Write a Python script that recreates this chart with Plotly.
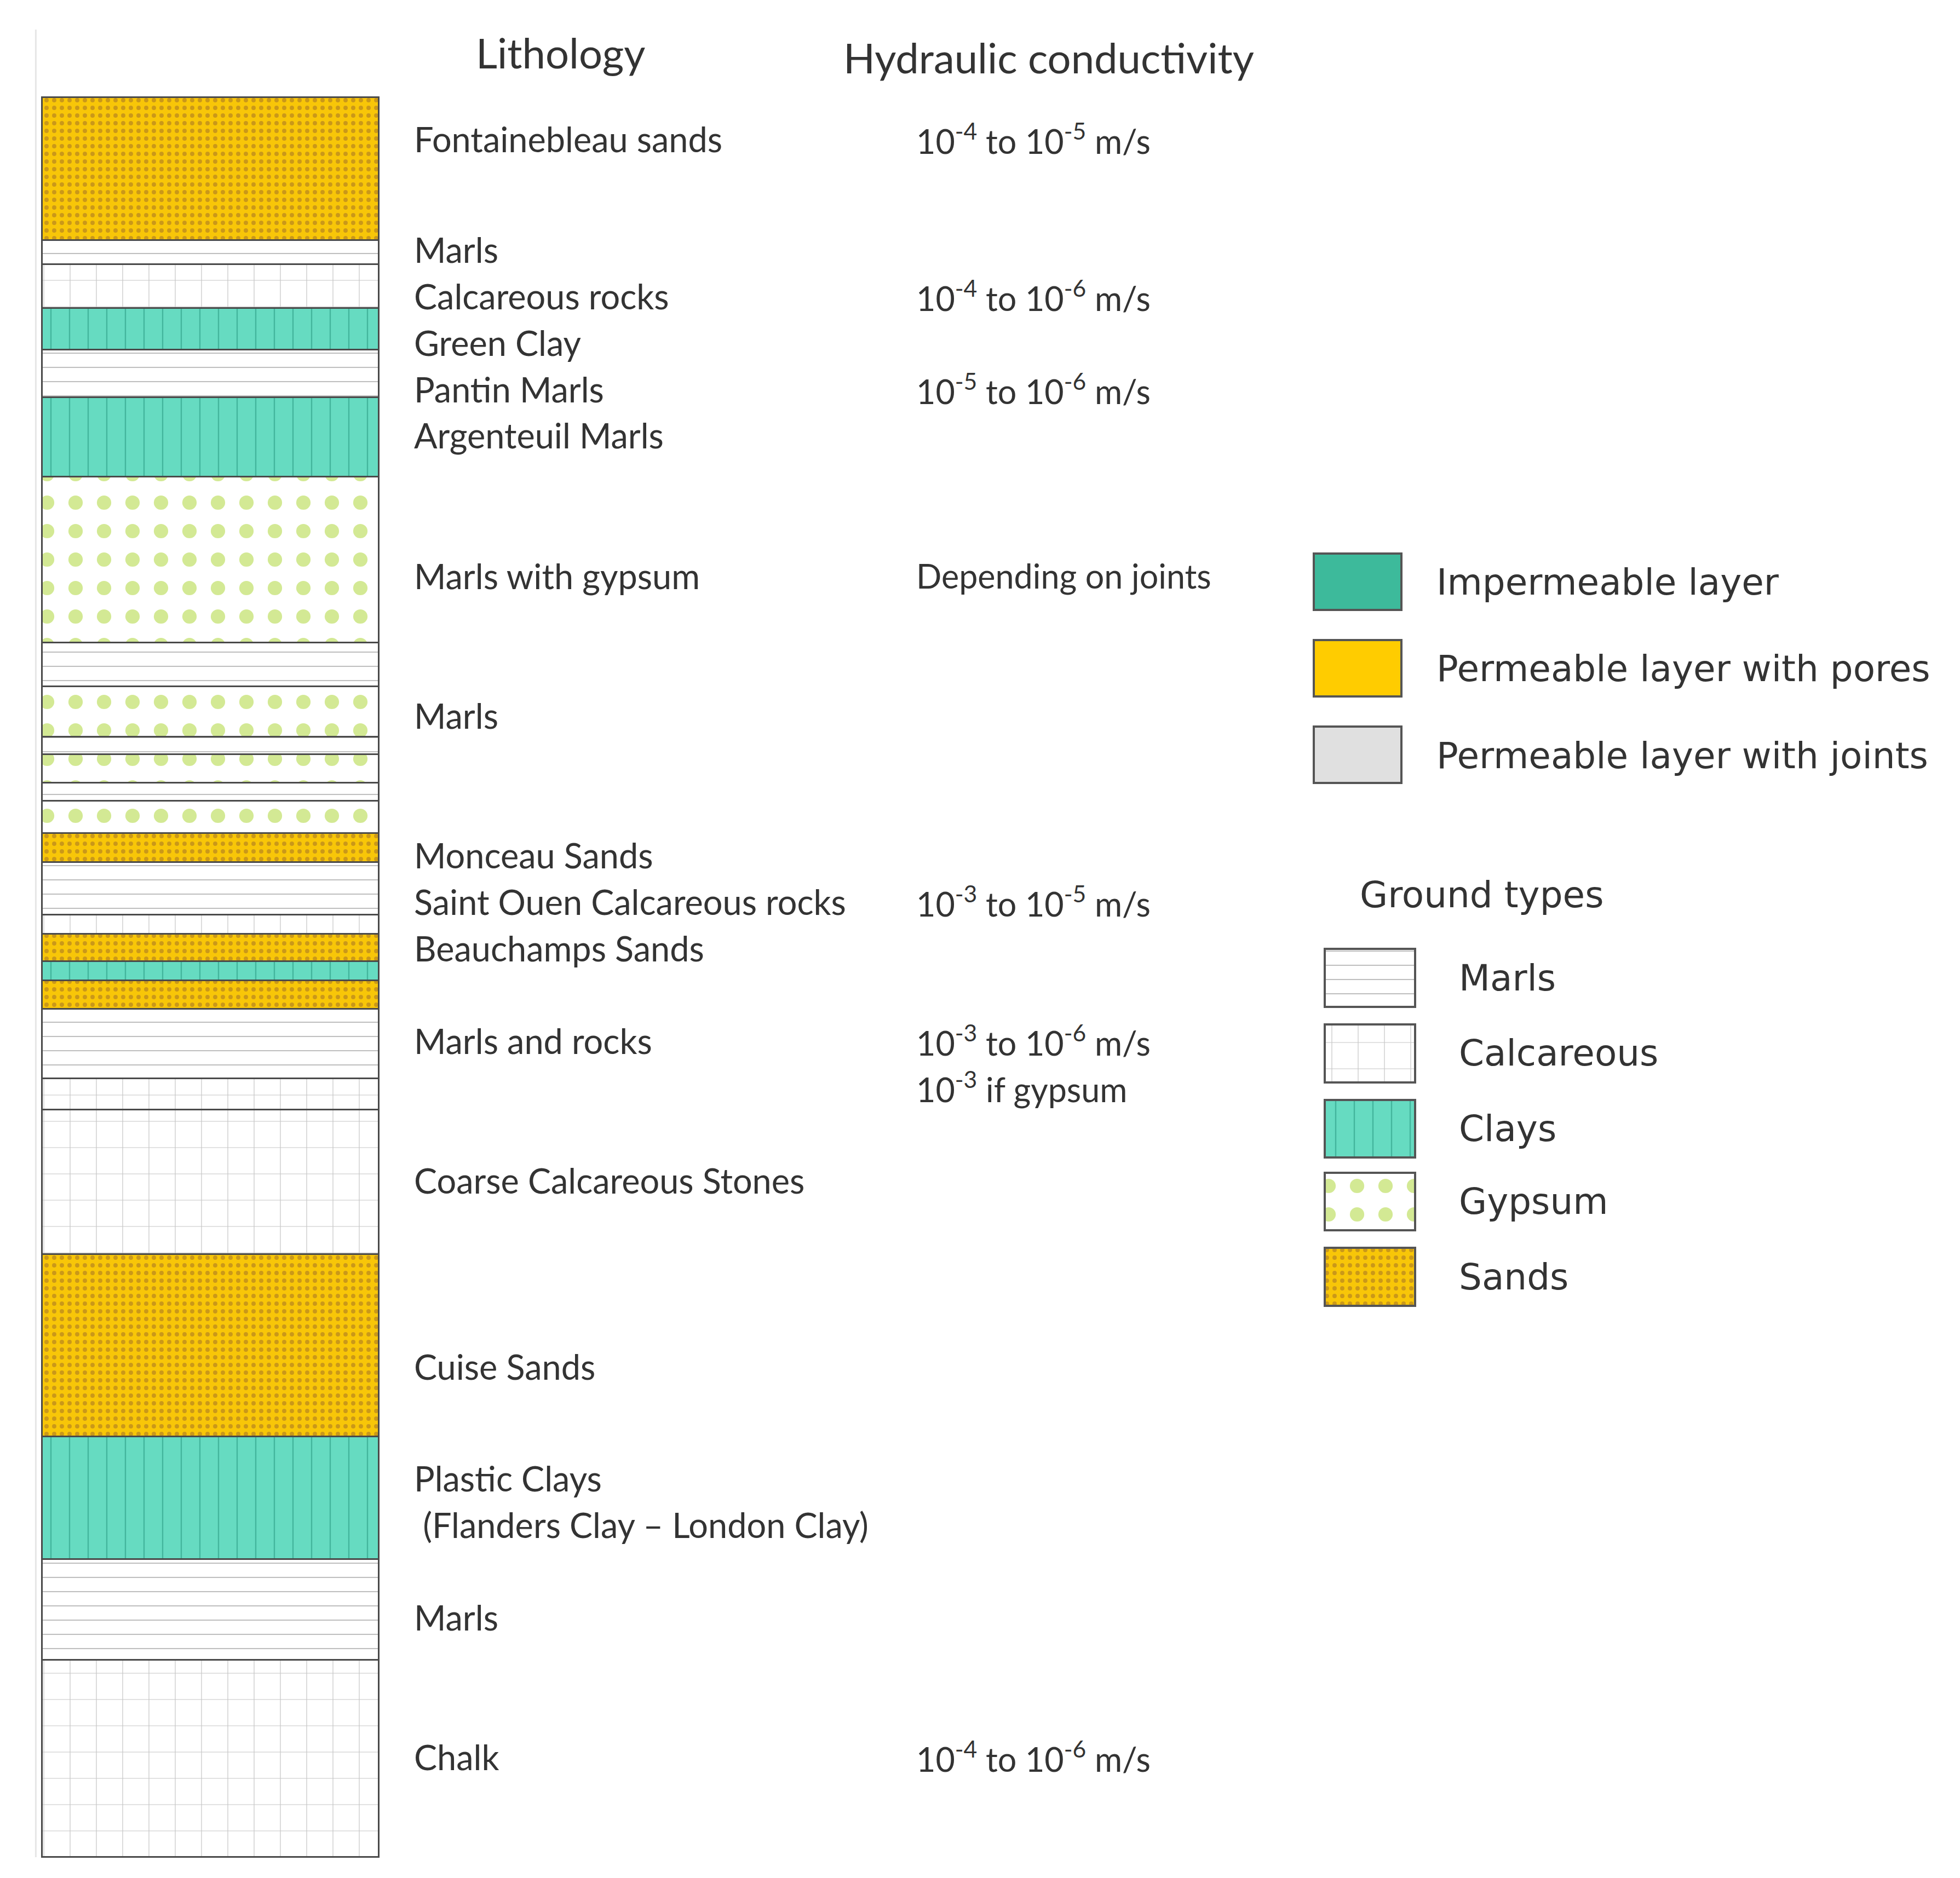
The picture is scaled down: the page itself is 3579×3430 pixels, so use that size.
import plotly.graph_objects as go

# drawing units: y is depth down the column, x is horizontal position
layer_type = ["sands", "marls", "calcareous", "clays", "marls", "clays", "gypsum",
              "marls", "gypsum", "marls", "gypsum", "marls", "gypsum", "sands",
              "marls", "calcareous", "sands", "clays", "sands", "marls",
              "calcareous", "calcareous", "sands", "clays", "marls", "calcareous"]
layer_top = [74, 188, 207, 242, 275, 313, 376, 508, 543, 583, 597, 620, 634, 660,
             683, 725, 740, 762, 777, 800, 855, 880, 995, 1140, 1238, 1318]
column_bottom = 1475

litho_labels = ["Fontainebleau sands", "Marls", "Calcareous rocks", "Green Clay",
                "Pantin Marls", "Argenteuil Marls", "Marls with gypsum", "Marls",
                "Monceau Sands", "Saint Ouen Calcareous rocks", "Beauchamps Sands",
                "Marls and rocks", "Coarse Calcareous Stones", "Cuise Sands",
                "Plastic Clays", " (Flanders Clay \u2013 London Clay)", "Marls", "Chalk"]
litho_y = [107, 195, 232, 269, 306, 343, 455, 566, 677, 714, 751, 825, 936, 1084,
           1173, 1210, 1284, 1395]

cond_labels = ["10<sup>-4</sup> to 10<sup>-5</sup> m/s", "10<sup>-4</sup> to 10<sup>-6</sup> m/s",
               "10<sup>-5</sup> to 10<sup>-6</sup> m/s", "Depending on joints",
               "10<sup>-3</sup> to 10<sup>-5</sup> m/s", "10<sup>-3</sup> to 10<sup>-6</sup> m/s",
               "10<sup>-3</sup> if gypsum", "10<sup>-4</sup> to 10<sup>-6</sup> m/s"]
cond_y = [107, 232, 306, 455, 714, 825, 862, 1395]

perm_labels = ["Impermeable layer", "Permeable layer with pores", "Permeable layer with joints"]
perm_colors = ["#3dba9b", "#ffcc00", "#e0e0e0"]
perm_top = [437, 506, 575]

ground_labels = ["Marls", "Calcareous", "Clays", "Gypsum", "Sands"]
ground_keys = ["marls", "calcareous", "clays", "gypsum", "sands"]
ground_top = [752, 812, 872, 930, 990]

styles = {
    "sands": dict(color="#f8c608", pattern=dict(shape=".", fgcolor="#9c6a2a", size=14, solidity=0.25, fillmode="overlay")),
    "clays": dict(color="#66dbc1", pattern=dict(shape="|", fgcolor="#1f8f77", size=34, solidity=0.07, fillmode="overlay")),
    "marls": dict(color="white", pattern=dict(shape="-", fgcolor="#808080", size=26, solidity=0.08, fillmode="overlay")),
    "calcareous": dict(color="white", pattern=dict(shape="+", fgcolor="#8c8c8c", size=48, solidity=0.05, fillmode="overlay")),
    "gypsum": dict(color="white", pattern=dict(shape=".", fgcolor="#a8d42a", size=52, solidity=0.2, fillmode="overlay")),
}

layer_bottom = layer_top[1:] + [column_bottom]
col_left, col_right = 30, 298

fig = go.Figure()

for key in ground_keys:
    tops = [t for t, k in zip(layer_top, layer_type) if k == key]
    bots = [b for b, k in zip(layer_bottom, layer_type) if k == key]
    st = styles[key]
    fig.add_trace(go.Bar(
        x=[(col_left + col_right) / 2] * len(tops),
        y=[b - t for t, b in zip(tops, bots)],
        base=tops,
        width=col_right - col_left,
        marker=dict(color=st["color"], pattern=st["pattern"],
                    line=dict(color="#4a4a4a", width=3)),
        showlegend=False, hoverinfo="skip",
    ))

# ground type legend boxes
for key, top in zip(ground_keys, ground_top):
    st = styles[key]
    fig.add_trace(go.Bar(
        x=[1087], y=[46], base=[top], width=72,
        marker=dict(color=st["color"], pattern=st["pattern"],
                    line=dict(color="#555555", width=4)),
        showlegend=False, hoverinfo="skip",
    ))

# permeability legend boxes
fig.add_trace(go.Bar(
    x=[1077] * 3, y=[45] * 3, base=perm_top, width=70,
    marker=dict(color=perm_colors, line=dict(color="#555555", width=4)),
    showlegend=False, hoverinfo="skip",
))

# faint frame line on the left
fig.add_trace(go.Scatter(x=[25, 25], y=[20, 1475], mode="lines",
                         line=dict(color="#e6e6e6", width=3),
                         showlegend=False, hoverinfo="skip"))

label_font = dict(family="Lato, Open Sans, sans-serif", size=63, color="#333333")
legend_font = dict(family="DejaVu Sans, Verdana, sans-serif", size=66, color="#333333")

fig.add_annotation(x=443, y=38, text="Lithology", showarrow=False, xanchor="center",
                   yanchor="middle", font=dict(label_font, size=76))
fig.add_annotation(x=831, y=42, text="Hydraulic conductivity", showarrow=False,
                   xanchor="center", yanchor="middle", font=dict(label_font, size=76))

for txt, yy in zip(litho_labels, litho_y):
    fig.add_annotation(x=325, y=yy, text=txt, showarrow=False, xanchor="left",
                       yanchor="middle", font=label_font)

for txt, yy in zip(cond_labels, cond_y):
    fig.add_annotation(x=725, y=yy, text=txt, showarrow=False, xanchor="left",
                       yanchor="middle", font=dict(label_font, size=61))

for txt, top in zip(perm_labels, perm_top):
    fig.add_annotation(x=1139, y=top + 23, text=txt, showarrow=False, xanchor="left",
                       yanchor="middle", font=legend_font)

fig.add_annotation(x=1078, y=709, text="Ground types", showarrow=False, xanchor="left",
                   yanchor="middle", font=legend_font)

for txt, top in zip(ground_labels, ground_top):
    fig.add_annotation(x=1157, y=top + 23, text=txt, showarrow=False, xanchor="left",
                       yanchor="middle", font=legend_font)

fig.update_layout(
    width=3579, height=3430,
    margin=dict(l=0, r=0, t=0, b=0),
    paper_bgcolor="white", plot_bgcolor="white",
    barmode="overlay", bargap=0,
    xaxis=dict(range=[0, 1560], visible=False, fixedrange=True),
    yaxis=dict(range=[1495, 0], visible=False, fixedrange=True),
)

fig.write_html("out.html")
